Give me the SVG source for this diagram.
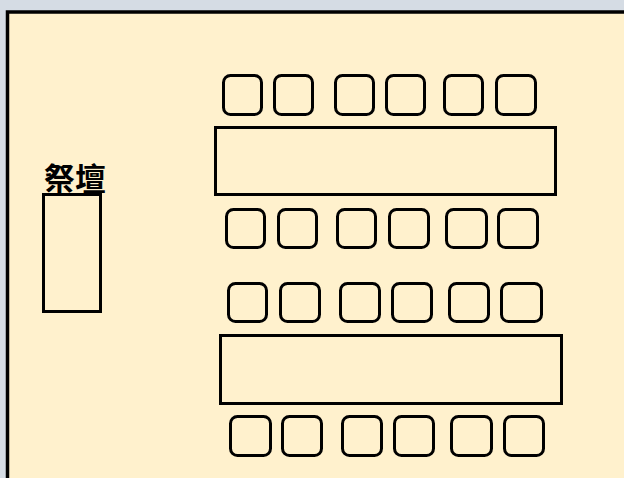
<svg xmlns="http://www.w3.org/2000/svg" width="624" height="478" viewBox="0 0 624 478">
<style>
.frame{fill:#fff1cd;stroke:#000;stroke-width:3.5}
.chair{fill:none;stroke:#000;stroke-width:3;}
.table{fill:none;stroke:#000;stroke-width:3}
.lbl{font-family:"Noto Sans CJK TC","Noto Sans CJK JP",sans-serif;font-weight:bold;font-size:31px;fill:#000}
</style>
<rect x="0" y="0" width="624" height="478" fill="#d5dce4"/>
<rect class="frame" x="7.5" y="12" width="640" height="500"/>
<g id="altar">
<text class="lbl" x="44" y="190">祭壇</text>
<rect class="table" x="43.5" y="194.5" width="57" height="117"/>
</g>
<g id="table1"><rect class="table" x="215.5" y="127.5" width="340" height="67"/></g>
<g id="table2"><rect class="table" x="220.5" y="335.5" width="341" height="68"/></g>
<g id="chairs-row1">
<rect class="chair" x="223.5" y="75.5" width="38" height="39" rx="7"/>
<rect class="chair" x="274.5" y="75.5" width="38" height="39" rx="7"/>
<rect class="chair" x="335.5" y="75.5" width="38" height="39" rx="7"/>
<rect class="chair" x="386.5" y="75.5" width="38" height="39" rx="7"/>
<rect class="chair" x="444.5" y="75.5" width="38" height="39" rx="7"/>
<rect class="chair" x="496.5" y="75.5" width="39" height="39" rx="7"/>
</g>
<g id="chairs-row2">
<rect class="chair" x="226.5" y="209.5" width="38" height="38" rx="7"/>
<rect class="chair" x="278.5" y="209.5" width="38" height="38" rx="7"/>
<rect class="chair" x="337.5" y="209.5" width="38" height="38" rx="7"/>
<rect class="chair" x="389.5" y="209.5" width="39" height="38" rx="7"/>
<rect class="chair" x="446.5" y="209.5" width="40" height="38" rx="7"/>
<rect class="chair" x="498.5" y="209.5" width="39" height="38" rx="7"/>
</g>
<g id="chairs-row3">
<rect class="chair" x="228.5" y="283.5" width="38" height="38" rx="7"/>
<rect class="chair" x="280.5" y="283.5" width="39" height="38" rx="7"/>
<rect class="chair" x="340.5" y="283.5" width="39" height="38" rx="7"/>
<rect class="chair" x="392.5" y="283.5" width="39" height="38" rx="7"/>
<rect class="chair" x="449.5" y="283.5" width="39" height="38" rx="7"/>
<rect class="chair" x="501.5" y="283.5" width="40" height="38" rx="7"/>
</g>
<g id="chairs-row4">
<rect class="chair" x="230.5" y="416.5" width="40" height="39" rx="7"/>
<rect class="chair" x="282.5" y="416.5" width="39" height="39" rx="7"/>
<rect class="chair" x="342.5" y="416.5" width="39" height="39" rx="7"/>
<rect class="chair" x="394.5" y="416.5" width="39" height="39" rx="7"/>
<rect class="chair" x="451.5" y="416.5" width="40" height="39" rx="7"/>
<rect class="chair" x="504.5" y="416.5" width="39" height="39" rx="7"/>
</g>
<g id="connectors"/>
</svg>
